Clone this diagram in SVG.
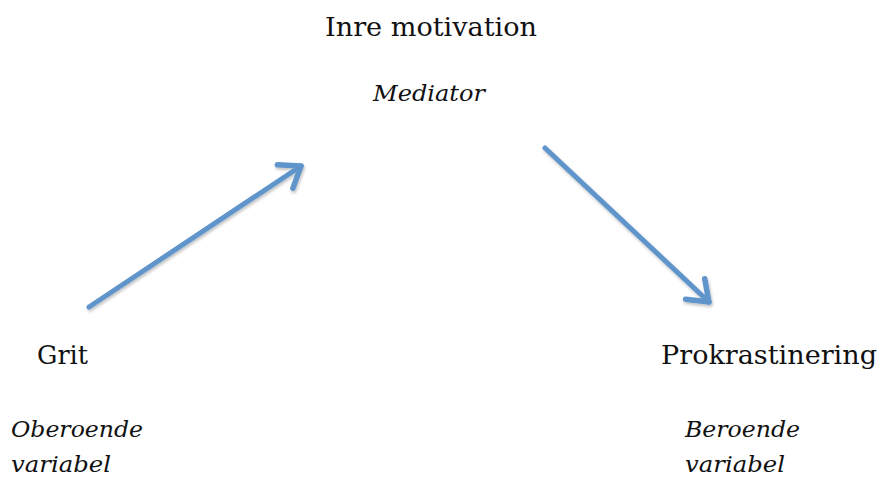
<svg xmlns="http://www.w3.org/2000/svg" width="883" height="482" viewBox="0 0 883 482">
<defs>
<style>
.t{font-family:"DejaVu Serif","Liberation Serif",serif;font-size:26px;fill:#111}
.i{font-family:"DejaVu Serif","Liberation Serif",serif;font-size:22px;font-style:italic;fill:#111}
.c{fill:none;stroke:#5f95cb;stroke-width:5;stroke-linecap:round;stroke-linejoin:round}
</style>
<marker id="ah" markerUnits="userSpaceOnUse" markerWidth="40" markerHeight="40" viewBox="-30 -20 40 40" refX="0" refY="0" orient="auto">
<path d="M-19,-14 L0,0 L-19,14" fill="none" stroke="#5f95cb" stroke-width="5.5" stroke-linecap="round" stroke-linejoin="round"/>
</marker>
<filter id="sh" x="-20%" y="-20%" width="140%" height="140%">
<feDropShadow dx="1" dy="2" stdDeviation="1.5" flood-color="#000" flood-opacity="0.25"/>
</filter>
</defs>
<rect width="883" height="482" fill="#fff"/>
<g id="mediator">
<text class="t" x="431" y="36" text-anchor="middle" textLength="212" lengthAdjust="spacingAndGlyphs">Inre motivation</text>
<text class="i" x="429" y="101" text-anchor="middle" textLength="112" lengthAdjust="spacingAndGlyphs">Mediator</text>
</g>
<g id="grit">
<text class="t" x="37" y="364" textLength="51" lengthAdjust="spacingAndGlyphs">Grit</text>
<text class="i" x="11" y="437" textLength="132" lengthAdjust="spacingAndGlyphs">Oberoende</text>
<text class="i" x="11" y="472" textLength="100" lengthAdjust="spacingAndGlyphs">variabel</text>
</g>
<g id="prokrastinering">
<text class="t" x="661" y="364" textLength="216" lengthAdjust="spacingAndGlyphs">Prokrastinering</text>
<text class="i" x="685" y="437" textLength="115" lengthAdjust="spacingAndGlyphs">Beroende</text>
<text class="i" x="685" y="472" textLength="100" lengthAdjust="spacingAndGlyphs">variabel</text>
</g>
<g id="connectors" filter="url(#sh)">
<line class="c" x1="89" y1="307" x2="301" y2="166" marker-end="url(#ah)"/>
<line class="c" x1="545" y1="148" x2="709" y2="302" marker-end="url(#ah)"/>
</g>
</svg>
